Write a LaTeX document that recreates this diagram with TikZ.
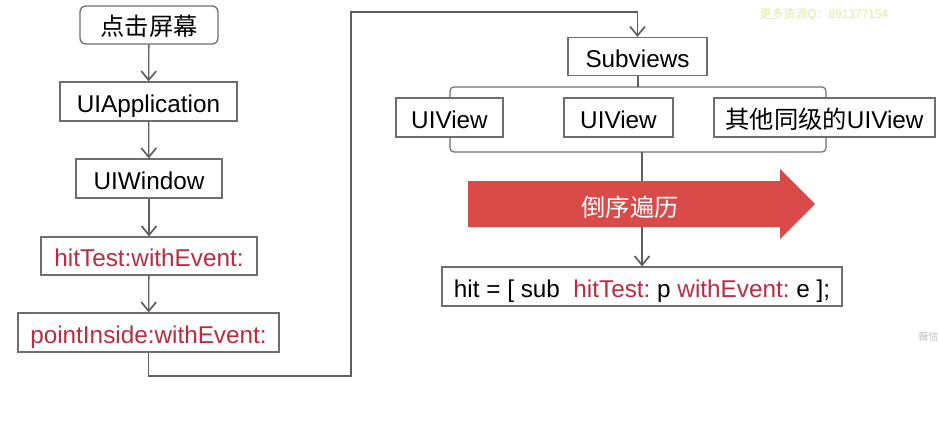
\documentclass[tikz,border=0pt]{standalone}
\usepackage{fontspec}
\setmainfont{Liberation Sans}
\newfontfamily\cjk{Noto Sans CJK SC}
\usetikzlibrary{arrows.meta}
\definecolor{edge}{RGB}{95,95,95}
\definecolor{boxline}{RGB}{110,110,110}
\definecolor{redtxt}{RGB}{188,44,62}
\definecolor{redfill}{RGB}{217,74,72}
\definecolor{wmark}{RGB}{222,236,160}
\begin{document}
\begin{tikzpicture}[x=1pt,y=-1pt,
  box/.style={draw=boxline,line width=1.3pt,fill=white,inner sep=0pt,align=center,
    text height=21pt,text depth=0pt,
    font=\fontsize{24.3}{28}\selectfont},
  conn/.style={draw=edge,line width=1.3pt},
  arr/.style={conn,-{Straight Barb[length=9pt,width=15pt,line width=1.7pt]}},
  bracket/.style={draw=boxline,line width=1.2pt,rounded corners=4pt}]
\useasboundingbox (0,0) rectangle (939,429);
% left column
\node[box,rounded corners=6pt,minimum width=138pt,minimum height=38pt] (tap) at (149,25) {\cjk 点击屏幕};
\node[box,minimum width=177pt,minimum height=39pt] (app) at (148.5,101.5) {UIApplication};
\node[box,minimum width=146pt,minimum height=39pt] (win) at (149,178.5) {UIWindow};
\node[box,minimum width=216pt,minimum height=38pt,text=redtxt] (hit) at (149,256) {hitTest:withEvent:};
\node[box,minimum width=261pt,minimum height=39pt,text=redtxt] (pin) at (148.5,332.5) {pointInside:withEvent:};
\draw[arr] (tap) -- (app);
\draw[arr] (app) -- (win);
\draw[arr] (win) -- (hit);
\draw[arr] (hit) -- (pin);
% right part
\node[box,minimum width=139pt,minimum height=38pt] (sub) at (637.5,56.5) {Subviews};
\coordinate (c1) at (148.5,376);
\coordinate (c2) at (351,376);
\coordinate (c3) at (351,12);
\coordinate (c4) at (637.5,12);
\draw[arr] (pin.south) -- (c1) -- (c2) -- (c3) -- (c4) -- (sub.north);
% bracket
\coordinate (b1) at (450,87);
\coordinate (b2) at (826,152);
\coordinate (bt) at (638,87);
\coordinate (bb) at (642,152);
\draw[bracket] (b1) rectangle (b2);
\draw[conn] (sub.south -| bt) -- (bt);
\node[box,minimum width=107pt,minimum height=39pt] (v1) at (449.5,117.5) {UIView};
\node[box,minimum width=109pt,minimum height=39pt] (v2) at (618.5,117.5) {UIView};
\node[box,minimum width=221pt,minimum height=39pt] (v3) at (824.5,117.5) {{\cjk 其他同级的}UIView};
\node[box,minimum width=400pt,minimum height=39pt] (code) at (642,286.5)
  {hit = [ sub\ \ \textcolor{redtxt}{hitTest:}~p \textcolor{redtxt}{withEvent:}~e ];};
\draw[arr] (bb) -- (bb |- code.north);
% big red arrow
\fill[redfill] (468,181) -- (780,181) -- (780,169) -- (815,204) -- (780,239) -- (780,227) -- (468,227) -- cycle;
\node[text=white,font=\cjk\fontsize{24.3}{28}\selectfont] (order) at (630,207) {倒序遍历};
% watermarks
\node[text=wmark,font=\cjk\fontsize{12}{14}\selectfont,anchor=west] (wm1) at (756,15) {更多资源Q：891377154};
\node[text=black!25,font=\cjk\fontsize{10}{12}\selectfont,anchor=east,inner sep=0.5pt] (wm2) at (939,337) {薇信};
\end{tikzpicture}
\end{document}
